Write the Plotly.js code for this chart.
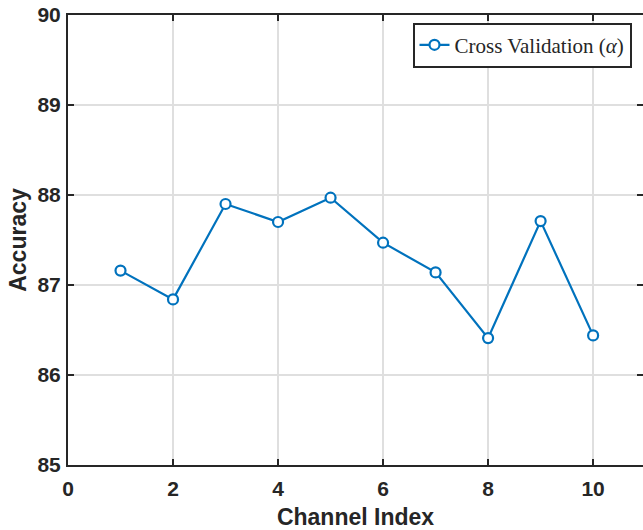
<!DOCTYPE html>
<html>
<head>
<meta charset="utf-8">
<script src="https://cdn.plot.ly/plotly-3.0.1.min.js"></script>
<style>
  html, body { margin: 0; padding: 0; background: #fff; }
  #chart { width: 643px; height: 530px; }
</style>
</head>
<body>
<div id="chart"></div>
<script>
// Accuracy per channel index
const channelIndex = [1, 2, 3, 4, 5, 6, 7, 8, 9, 10];
const accuracy = [87.16, 86.84, 87.90, 87.70, 87.97, 87.47, 87.14, 86.41, 87.71, 86.44];
const seriesName = 'Cross Validation (<i>α</i>)';
const xTicks = [0, 2, 4, 6, 8, 10];
const yTicks = [85, 86, 87, 88, 89, 90];

const ink = '#262626';
const blue = '#0072BD';
const grid = '#dfdfdf';
const sans = 'Liberation Sans, Arial, sans-serif';

const trace = {
  x: channelIndex,
  y: accuracy,
  name: seriesName,
  type: 'scatter',
  mode: 'lines+markers',
  line: { color: blue, width: 2.2 },
  marker: { symbol: 'circle', size: 10, color: '#ffffff', line: { color: blue, width: 2.2 } },
  showlegend: true
};

const axisCommon = {
  showline: true,
  linecolor: ink,
  linewidth: 2,
  mirror: 'ticks',
  ticks: 'inside',
  ticklen: 6,
  tickwidth: 2,
  tickcolor: ink,
  showgrid: true,
  gridcolor: grid,
  gridwidth: 2,
  zeroline: false,
  tickfont: { family: sans, size: 21, color: ink, weight: 'bold' }
};

const layout = {
  width: 643,
  height: 530,
  margin: { l: 68, r: 0, t: 15, b: 65 },
  paper_bgcolor: '#ffffff',
  plot_bgcolor: '#ffffff',
  xaxis: Object.assign({}, axisCommon, {
    range: [0, 10.95],
    tickmode: 'array',
    tickvals: xTicks,
    ticktext: xTicks.map(String),
    ticklabelstandoff: 4,
    title: { text: '<b>Channel Index</b>', standoff: 10,
             font: { family: sans, size: 23, color: ink } }
  }),
  yaxis: Object.assign({}, axisCommon, {
    range: [85, 90],
    tickmode: 'array',
    tickvals: yTicks,
    ticktext: yTicks.map(String),
    ticklabelstandoff: 1,
    title: { text: '<b>Accuracy</b>', standoff: 4,
             font: { family: sans, size: 23, color: ink } }
  }),
  legend: {
    x: 0.98, y: 0.983,
    xanchor: 'right', yanchor: 'top',
    bgcolor: '#ffffff',
    bordercolor: ink,
    borderwidth: 2,
    font: { family: 'Liberation Serif, Times New Roman, serif', size: 21, color: ink },
    tracegroupgap: 0
  }
};

Plotly.newPlot('chart', [trace], layout, { staticPlot: true, displayModeBar: false });
</script>
</body>
</html>
